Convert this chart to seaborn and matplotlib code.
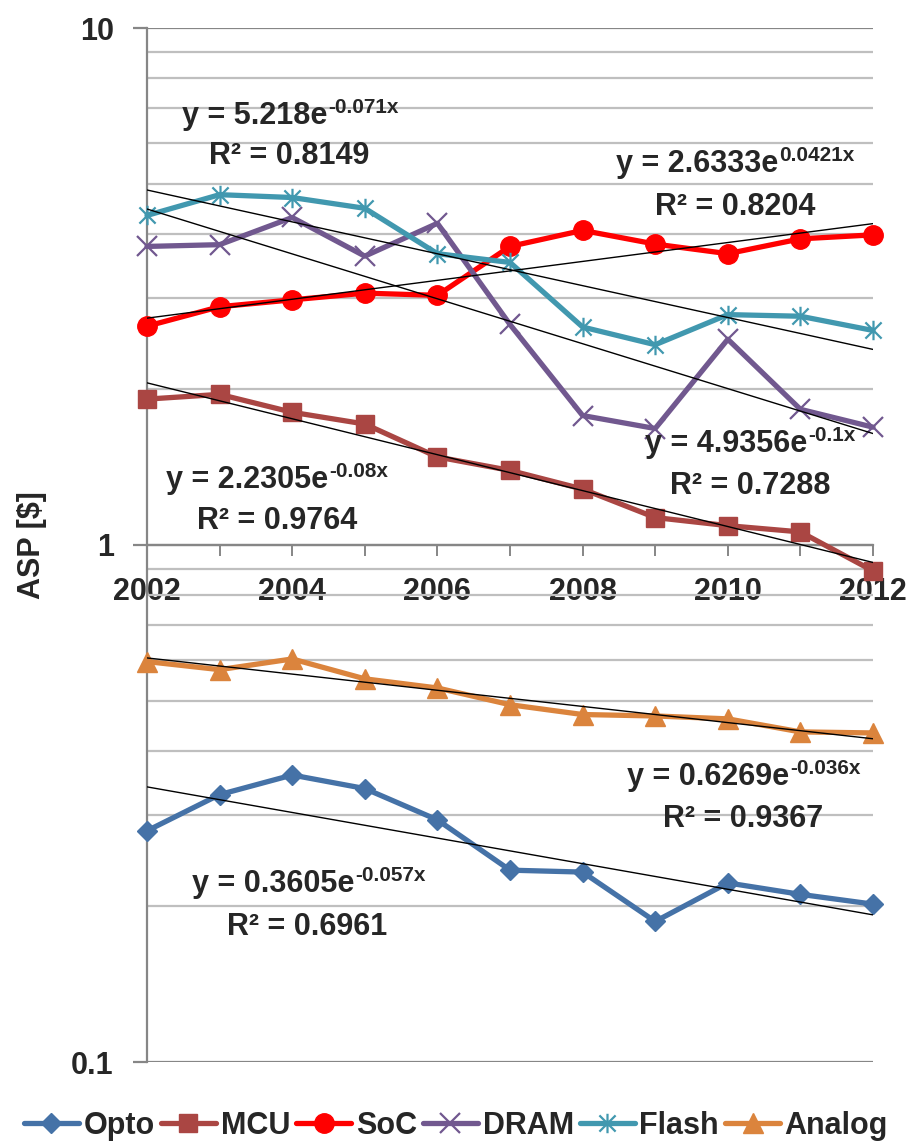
import numpy as np
import pandas as pd
import matplotlib
matplotlib.use("Agg")
import matplotlib.pyplot as plt
import seaborn as sns
from matplotlib.path import Path
from matplotlib.ticker import FixedLocator, FuncFormatter, LogLocator, NullFormatter

# ---------------- data ----------------
years = list(range(2002, 2013))
opto = [0.280, 0.329, 0.359, 0.338, 0.294, 0.235, 0.233, 0.187, 0.222, 0.211, 0.202]
mcu = [1.915, 1.956, 1.806, 1.714, 1.480, 1.394, 1.283, 1.130, 1.090, 1.060, 0.891]
soc = [2.65, 2.89, 2.98, 3.07, 3.04, 3.78, 4.06, 3.82, 3.66, 3.91, 3.98]
dram = [3.78, 3.81, 4.30, 3.62, 4.19, 2.67, 1.78, 1.68, 2.50, 1.83, 1.69]
flash = [4.34, 4.76, 4.70, 4.48, 3.66, 3.52, 2.64, 2.44, 2.79, 2.77, 2.60]
analog = [0.595, 0.574, 0.602, 0.551, 0.529, 0.491, 0.470, 0.467, 0.461, 0.435, 0.433]

series_names = ["Opto", "MCU", "SoC", "DRAM", "Flash", "Analog"]
trend_a = [0.3605, 2.2305, 2.6333, 4.9356, 5.218, 0.6269]
trend_b = ["-0.057", "-0.08", "0.0421", "-0.1", "-0.071", "-0.036"]
r2_labels = ["0.6961", "0.9764", "0.8204", "0.7288", "0.8149", "0.9367"]
y_tick_values = [0.1, 1, 10]
y_tick_labels = ["0.1", "1", "10"]
y_label = "ASP [$]"

# ---------------- style ----------------
sns.set_theme(style="white")
plt.rcParams["font.family"] = ["Liberation Sans", "DejaVu Sans"]
plt.rcParams["font.weight"] = "bold"
FS = 22
EQ = 22

colors = ["#4572A7", "#AA4643", "#FF0000", "#71588F", "#4198AF", "#DB843D"]
asterisk = Path([(-0.5, -0.5), (0.5, 0.5), (-0.5, 0.5), (0.5, -0.5), (0, -0.6), (0, 0.6)],
                [Path.MOVETO, Path.LINETO, Path.MOVETO, Path.LINETO, Path.MOVETO, Path.LINETO])
markers = ["D", "s", "o", "x", asterisk, "^"]
msizes = [10.5, 13, 14, 14, 14, 14]
mews = [1, 1, 1, 1.6, 1.6, 1]

W, H = 914, 1148
fig = plt.figure(figsize=(W / 100, H / 100), dpi=100)
L, R, T, B = 147, 873, 28, 1062
ax = fig.add_axes([L / W, 1 - B / H, (R - L) / W, (B - T) / H])

values = [opto, mcu, soc, dram, flash, analog]
handles = []
for name, vals, c, m, ms, mew in zip(series_names, values, colors, markers, msizes, mews):
    sns.lineplot(x=years, y=vals, ax=ax, color=c, lw=3.8, marker=m, markersize=ms,
                 markeredgecolor=c, markerfacecolor=c, markeredgewidth=mew,
                 clip_on=False, zorder=3, legend=False)
    handles.append(ax.lines[-1])

# exponential trendlines (x = 1..11)
xi = np.arange(1, len(years) + 1)
for a, b in zip(trend_a, trend_b):
    sns.lineplot(x=years, y=a * np.exp(float(b) * xi), ax=ax, color="black", lw=1.0,
                 zorder=4, legend=False)

ax.set_yscale("log")
ax.set_ylim(0.1, 10)
ax.set_xlim(2002, 2012)

for s in ["top", "right"]:
    ax.spines[s].set_visible(False)
ax.spines["left"].set_color("#868686")
ax.spines["left"].set_linewidth(1.6)
ax.spines["bottom"].set_position(("data", 1))
ax.spines["bottom"].set_color("#868686")
ax.spines["bottom"].set_linewidth(1.6)
ax.spines["bottom"].set_zorder(2)

ax.xaxis.set_major_locator(FixedLocator(years))
ax.xaxis.set_major_formatter(FuncFormatter(lambda v, p: str(int(round(v))) if int(round(v)) % 2 == 0 else ""))
ax.tick_params(axis="x", direction="out", length=8, width=1.4, color="#868686",
               labelsize=FS, pad=15, bottom=True)

ax.yaxis.set_major_locator(FixedLocator(y_tick_values))
ax.yaxis.set_major_formatter(FuncFormatter(lambda v, p: y_tick_labels[y_tick_values.index(v)] if v in y_tick_values else ""))
ax.yaxis.set_minor_locator(LogLocator(base=10, subs=np.arange(2, 10)))
ax.yaxis.set_minor_formatter(NullFormatter())
ax.tick_params(axis="y", which="major", direction="out", length=10, width=1.6,
               color="#868686", labelsize=FS, pad=14, left=True)
ax.tick_params(axis="y", which="minor", length=0)
ax.yaxis.grid(True, which="major", color="#868686", lw=1.6, zorder=0)
ax.yaxis.grid(True, which="minor", color="#BFBFBF", lw=1.6, zorder=0)
ax.xaxis.grid(False)
ax.set_axisbelow(True)
for lbl in ax.get_xticklabels() + ax.get_yticklabels():
    lbl.set_fontweight("bold")

ax.set_ylabel(y_label, fontsize=FS, fontweight="bold")
ax.yaxis.set_label_coords((47 - L) / (R - L), 0.5)
ax.set_xlabel("")

# trendline equations (center x, baseline y in pixels)
eq_pos = {
    "Opto": (308, 892, 307, 935),
    "MCU": (277, 488, 277, 529),
    "SoC": (735, 172, 735, 215),
    "DRAM": (750, 452, 750, 494),
    "Flash": (290, 124, 289, 164),
    "Analog": (743, 785, 743, 827),
}
renderer = fig.canvas.get_renderer()
SUP = 0.68
RAISE = 11
for name, a, b, r2 in zip(series_names, trend_a, trend_b, r2_labels):
    ex, ey, rx, ry = eq_pos[name]
    t1 = fig.text(0, 1 - ey / H, "y = %se" % a, ha="left", va="baseline",
                  fontsize=EQ, fontweight="bold")
    t2 = fig.text(0, 1 - (ey - RAISE) / H, "%sx" % b, ha="left",
                  va="baseline", fontsize=EQ * SUP, fontweight="bold")
    w1 = t1.get_window_extent(renderer).width
    w2 = t2.get_window_extent(renderer).width
    x0 = ex - (w1 + w2) / 2
    t1.set_x(x0 / W)
    t2.set_x((x0 + w1 + 1) / W)
    fig.text(rx / W, 1 - ry / H, "R\u00b2 = %s" % r2, ha="center", va="baseline",
             fontsize=EQ, fontweight="bold")

fig.legend(handles, series_names, loc="center", bbox_to_anchor=(456 / W, 1 - 1126 / H),
           ncol=6, frameon=False, handlelength=1.8, handletextpad=0.15,
           columnspacing=0.2, borderaxespad=0, prop={"weight": "bold", "size": FS})

fig.savefig("out.png", dpi=100)
